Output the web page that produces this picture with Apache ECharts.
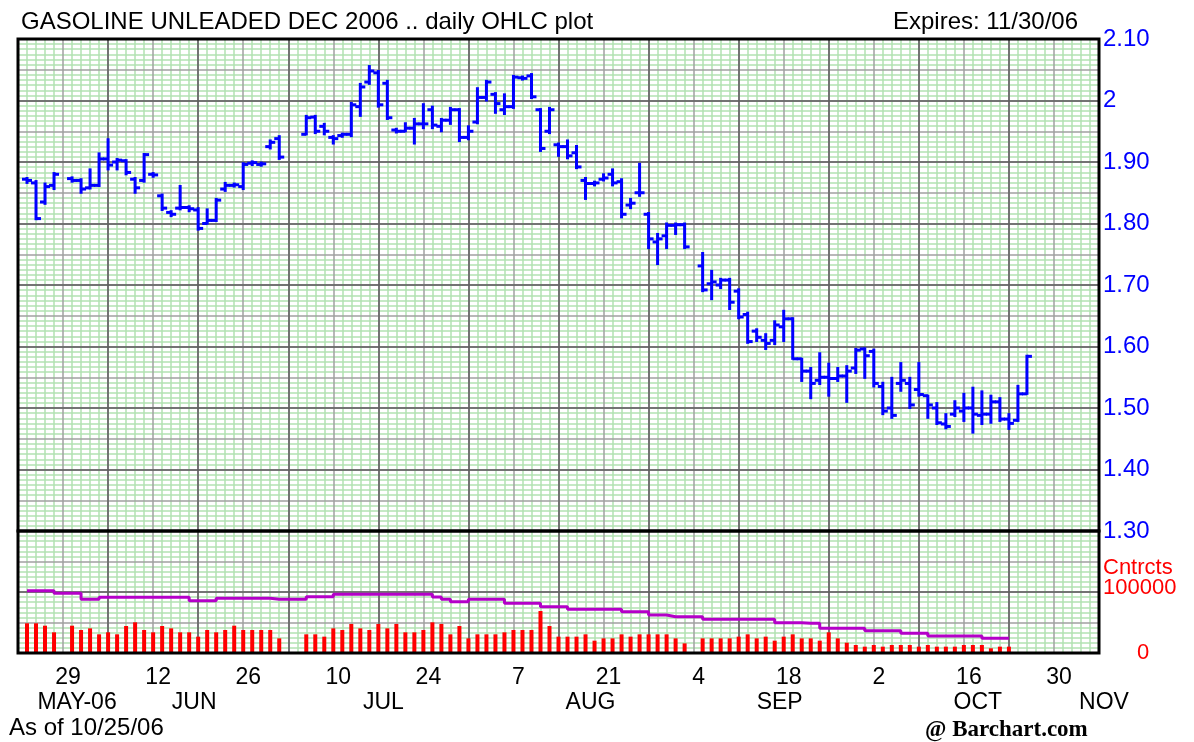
<!DOCTYPE html>
<html>
<head>
<meta charset="utf-8">
<title>Gasoline Unleaded Dec 2006</title>
<script src="https://cdn.jsdelivr.net/npm/echarts@6/dist/echarts.min.js"></script>
<style>
html, body { margin: 0; padding: 0; background: #fff; }
#chart { width: 1194px; height: 742px; }
</style>
</head>
<body>
<div id="chart"></div>
<script>
// trading days (weekdays) from Mon 22 May 2006 to Mon 6 Nov 2006
var days = [];
var d = new Date(Date.UTC(2006, 4, 22));
while (days.length < 121) {
    var wd = d.getUTCDay();
    if (wd !== 0 && wd !== 6) days.push(d.toISOString().slice(0, 10));
    d.setUTCDate(d.getUTCDate() + 1);
}

// tick labels under the volume panel
var dayLabelIdx = [5, 15, 25, 35, 45, 55, 65, 75, 85, 95, 105, 115];
var dayLabels = ['29', '12', '26', '10', '24', '7', '21', '4', '18', '2', '16', '30'];
var monthLabelIdx = [6, 19, 40, 63, 84, 106, 120];
var monthLabels = ['MAY-06', 'JUN', 'JUL', 'AUG', 'SEP', 'OCT', 'NOV'];

// daily OHLC, one entry per weekday (null = holiday / no trade)
var open = [null,
    1.872, 1.866, 1.835, 1.862, null, 1.873, 1.870, 1.858, 1.862, 1.905,
    1.900, 1.902, 1.872, 1.870, 1.880, 1.845, 1.818, 1.825, 1.826, 1.822,
    1.800, 1.805, 1.856, 1.862, 1.860, 1.898, 1.896, 1.925, 1.938, null,
    null, 1.945, 1.973, 1.958, 1.940, 1.943, 1.945, 1.990, 2.030, 2.045,
    2.028, 1.952, 1.950, 1.955, 1.962, 1.985, 1.958, 1.968, 1.985, 1.940,
    1.965, 2.005, 2.010, 1.985, 1.990, 2.037, 2.040, 1.985, 1.950, 1.928,
    1.925, 1.915, 1.870, 1.865, 1.872, 1.880, 1.868, 1.830, 1.850, 1.815,
    1.770, 1.780, 1.797, 1.798, null, 1.731, 1.702, 1.700, 1.708, 1.690,
    1.652, 1.625, 1.610, 1.610, 1.632, 1.645, 1.580, 1.560, 1.545, 1.550,
    1.548, 1.552, 1.565, 1.596, 1.592, 1.535, 1.500, 1.540, 1.540, 1.530,
    1.520, 1.500, 1.474, 1.490, 1.495, 1.500, 1.488, 1.490, 1.510, 1.482,
    1.480, 1.523];
var high = [null,
    1.874, 1.869, 1.865, 1.882, null, 1.875, 1.872, 1.888, 1.914, 1.937,
    1.905, 1.903, 1.874, 1.913, 1.882, 1.847, 1.820, 1.861, 1.828, 1.825,
    1.823, 1.840, 1.866, 1.865, 1.898, 1.901, 1.899, 1.935, 1.942, null,
    null, 1.975, 1.975, 1.962, 1.942, 1.946, 1.996, 2.027, 2.056, 2.048,
    2.032, 1.954, 1.963, 1.970, 1.994, 1.990, 1.970, 1.988, 1.986, 1.958,
    2.020, 2.032, 2.012, 2.010, 2.040, 2.039, 2.043, 1.986, 1.988, 1.930,
    1.935, 1.926, 1.874, 1.868, 1.880, 1.888, 1.872, 1.840, 1.897, 1.817,
    1.783, 1.800, 1.800, 1.800, null, 1.752, 1.723, 1.710, 1.710, 1.693,
    1.655, 1.628, 1.620, 1.641, 1.658, 1.646, 1.580, 1.565, 1.589, 1.572,
    1.565, 1.568, 1.596, 1.597, 1.595, 1.541, 1.549, 1.573, 1.549, 1.573,
    1.520, 1.508, 1.490, 1.511, 1.523, 1.533, 1.527, 1.520, 1.516, 1.490,
    1.536, 1.585];
var low = [null,
    1.866, 1.807, 1.832, 1.856, null, 1.868, 1.850, 1.857, 1.861, 1.888,
    1.888, 1.880, 1.850, 1.868, 1.876, 1.822, 1.812, 1.823, 1.820, 1.790,
    1.800, 1.804, 1.853, 1.860, 1.856, 1.895, 1.894, 1.922, 1.905, null,
    null, 1.945, 1.947, 1.945, 1.930, 1.941, 1.942, 1.975, 2.027, 1.990,
    1.970, 1.948, 1.950, 1.930, 1.955, 1.955, 1.950, 1.962, 1.934, 1.937,
    1.963, 2.000, 1.980, 1.978, 1.988, 2.034, 2.004, 1.918, 1.947, 1.910,
    1.906, 1.890, 1.840, 1.862, 1.870, 1.862, 1.810, 1.825, 1.845, 1.760,
    1.734, 1.760, 1.783, 1.760, null, 1.690, 1.677, 1.695, 1.661, 1.646,
    1.606, 1.609, 1.596, 1.604, 1.609, 1.580, 1.544, 1.516, 1.539, 1.520,
    1.544, 1.510, 1.557, 1.549, 1.535, 1.490, 1.484, 1.528, 1.500, 1.520,
    1.484, 1.474, 1.467, 1.487, 1.479, 1.460, 1.474, 1.476, 1.479, 1.466,
    1.479, 1.523];
var close = [null,
    1.870, 1.808, 1.860, 1.880, null, 1.870, 1.856, 1.862, 1.905, 1.895,
    1.903, 1.883, 1.858, 1.912, 1.879, 1.825, 1.815, 1.826, 1.824, 1.792,
    1.805, 1.838, 1.862, 1.863, 1.896, 1.899, 1.897, 1.932, 1.908, null,
    null, 1.972, 1.950, 1.950, 1.938, 1.945, 1.993, 2.022, 2.048, 1.993,
    1.972, 1.950, 1.955, 1.962, 1.962, 1.960, 1.968, 1.985, 1.940, 1.950,
    2.005, 2.030, 1.995, 1.990, 2.038, 2.036, 2.006, 1.922, 1.985, 1.925,
    1.910, 1.892, 1.865, 1.866, 1.874, 1.866, 1.815, 1.833, 1.850, 1.775,
    1.775, 1.797, 1.798, 1.762, null, 1.692, 1.705, 1.708, 1.672, 1.648,
    1.608, 1.615, 1.605, 1.635, 1.645, 1.580, 1.560, 1.540, 1.550, 1.548,
    1.552, 1.560, 1.594, 1.585, 1.540, 1.495, 1.488, 1.545, 1.505, 1.522,
    1.505, 1.476, 1.470, 1.500, 1.500, 1.490, 1.490, 1.510, 1.482, 1.475,
    1.523, 1.584];

// contracts traded and open interest
var volume = [null,
    48700, 48700, 44800, 33900, null, 44800, 37700, 40400, 30600, 33900,
    30600, 44300, 50300, 37700, 33900, 44300, 40400, 33900, 33900, 26800,
    37700, 33900, 37700, 44800, 37700, 37700, 37700, 37700, 24000, null,
    null, 30600, 30600, 26800, 40400, 37700, 47600, 40400, 37700, 47600,
    40400, 47600, 33900, 33900, 37700, 50300, 47600, 30600, 44300, 24000,
    30600, 30600, 30600, 33900, 37700, 37700, 37700, 68900, 44300, 26800,
    26800, 26800, 30600, 20200, 24000, 24000, 30600, 26800, 30600, 30600,
    30600, 30600, 24000, 15800, null, 24000, 24000, 24000, 24000, 26800,
    30600, 24000, 26800, 20200, 26800, 30600, 24000, 24000, 20200, 33900,
    24000, 16900, 13100, 10400, 13100, 10400, 13100, 13100, 13100, 10400,
    13100, 10400, 10400, 10400, 13100, 13100, 13100, 7700, 10400, 10400];
var openInterest = [null,
    102000, 102000, 102000, 97900, null, 97900, 88000, 88000, 91300, 91300,
    91300, 91300, 91300, 91300, 91300, 91300, 91300, 91300, 85800, 85800,
    85800, 89700, 89700, 89700, 89700, 89700, 89700, 88000, 88000, null,
    null, 92300, 92300, 92300, 96200, 96200, 96200, 96200, 96200, 96200,
    96200, 96200, 96200, 96200, 96200, 92000, 88000, 84100, 84100, 88000,
    88000, 88000, 88000, 81500, 81500, 81500, 81500, 76000, 76000, 76000,
    71600, 71600, 71600, 71600, 71600, 71600, 67800, 67800, 67800, 62300,
    62300, 59500, 59500, 59500, null, 55200, 55200, 55200, 55200, 55200,
    55200, 55200, 55200, 49700, 49700, 49700, 48700, 48700, 40500, 40500,
    40500, 40500, 40500, 36600, 36600, 36600, 36600, 32300, 32300, 32300,
    27900, 27900, 27900, 27900, 27900, 27900, 24100, 24100, 24100, 24100];

var ohlc = [];
for (var i = 0; i < open.length; i++) {
    if (open[i] != null) ohlc.push([i, open[i], high[i], low[i], close[i]]);
}

var FONT = 'Liberation Sans';
var DARK = '#5e5e5e', LIGHT = '#a0a0a0', GREEN = '#b2e2b2';

function hiddenAxis(extra) {
    var a = {
        axisLine: { show: false }, axisTick: { show: false },
        axisLabel: { show: false }, splitLine: { show: false }
    };
    for (var k in extra) a[k] = extra[k];
    return a;
}
function grayLines(color, interval) {
    var s = { show: true, showMinLine: false, showMaxLine: false, lineStyle: { color: color, width: 1.5 } };
    if (interval != null) s.interval = interval;
    return s;
}
function greenLines() {
    return { show: true, lineStyle: { color: GREEN, width: 1.5 } };
}

var chart = echarts.init(document.getElementById('chart'));

var option = {
    animation: false,
    backgroundColor: '#ffffff',
    title: [
        { text: 'GASOLINE UNLEADED DEC 2006 .. daily OHLC plot', left: 21, top: 10, padding: 0,
          textStyle: { fontFamily: FONT, fontSize: 24, fontWeight: 'normal', color: '#000' } },
        { text: 'Expires: 11/30/06', left: 893, top: 10, padding: 0,
          textStyle: { fontFamily: FONT, fontSize: 24, fontWeight: 'normal', color: '#000' } },
        { text: 'As of 10/25/06', left: 9, top: 716, padding: 0,
          textStyle: { fontFamily: FONT, fontSize: 24, fontWeight: 'normal', color: '#000' } },
        { text: '@ Barchart.com', left: 925, top: 719, padding: 0,
          textStyle: { fontFamily: 'Liberation Serif', fontSize: 23, fontWeight: 'bold', color: '#000' } }
    ],
    // frames are drawn on top of the grid lines and marks
    grid: [
        { left: 18, right: 95, top: 39, height: 492, show: true, z: 10,
          backgroundColor: 'transparent', borderColor: '#000', borderWidth: 3 },
        { left: 18, right: 95, top: 531, height: 122, show: true, z: 10,
          backgroundColor: 'transparent', borderColor: '#000', borderWidth: 3 }
    ],
    xAxis: [
        // price panel
        hiddenAxis({ type: 'category', gridIndex: 0, data: days, boundaryGap: false, z: 2,
            splitLine: grayLines(DARK, 9) }),
        hiddenAxis({ type: 'category', gridIndex: 0, data: days, boundaryGap: false, z: 1,
            splitLine: grayLines(LIGHT, 4) }),
        hiddenAxis({ type: 'value', gridIndex: 0, min: 0, max: 120, interval: 5, z: 0,
            minorTick: { show: false, splitNumber: 5 }, minorSplitLine: greenLines() }),
        // volume panel
        hiddenAxis({ type: 'category', gridIndex: 1, data: days, boundaryGap: false, z: 2,
            position: 'bottom',
            splitLine: grayLines(DARK, 9),
            axisLabel: {
                show: true, margin: 13, fontFamily: FONT, fontSize: 23, color: '#000',
                padding: [0, 0, 0, 10], hideOverlap: false,
                interval: function (idx) { return dayLabelIdx.indexOf(idx) >= 0; },
                formatter: function (v, idx) {
                    var k = dayLabelIdx.indexOf(idx);
                    return k >= 0 ? dayLabels[k] : '';
                }
            } }),
        hiddenAxis({ type: 'category', gridIndex: 1, data: days, boundaryGap: false, z: 1,
            position: 'bottom', splitLine: grayLines(LIGHT, 4) }),
        hiddenAxis({ type: 'value', gridIndex: 1, min: 0, max: 120, interval: 5, z: 0,
            position: 'bottom',
            minorTick: { show: false, splitNumber: 5 }, minorSplitLine: greenLines() }),
        hiddenAxis({ type: 'category', gridIndex: 1, data: days, boundaryGap: false, z: 2,
            position: 'bottom',
            axisLabel: {
                show: true, margin: 38, fontFamily: FONT, fontSize: 23, color: '#000',
                padding: [0, 0, 0, 10], hideOverlap: false,
                interval: function (idx) { return monthLabelIdx.indexOf(idx) >= 0; },
                formatter: function (v, idx) {
                    var k = monthLabelIdx.indexOf(idx);
                    return k >= 0 ? monthLabels[k] : '';
                }
            } })
    ],
    yAxis: [
        // price panel
        hiddenAxis({ type: 'value', gridIndex: 0, position: 'right', min: 1.3, max: 2.1, interval: 0.1, z: 2,
            splitLine: grayLines(DARK),
            axisLabel: {
                show: true, margin: 4, fontFamily: FONT, fontSize: 24, color: '#0000ff',
                showMinLabel: true, showMaxLabel: true,
                formatter: function (v) {
                    return Math.abs(v - 2) < 1e-6 ? '2' : v.toFixed(2);
                }
            } }),
        hiddenAxis({ type: 'value', gridIndex: 0, position: 'right', min: 1.3, max: 2.1, interval: 0.05, z: 1,
            splitLine: grayLines(LIGHT) }),
        hiddenAxis({ type: 'value', gridIndex: 0, position: 'right', min: 1.3, max: 2.1, interval: 0.05, z: 0,
            minorTick: { show: false, splitNumber: 6 }, minorSplitLine: greenLines() }),
        // volume panel
        hiddenAxis({ type: 'value', gridIndex: 1, position: 'right', min: 0, max: 200000, interval: 100000, z: 2,
            splitLine: grayLines(DARK),
            axisLabel: {
                show: true, margin: 4, fontFamily: FONT, fontSize: 22, color: '#ff0000',
                showMinLabel: true, showMaxLabel: true,
                formatter: function (v) {
                    if (v === 0) return '{z|0}';
                    if (v === 100000) return '{h|100000}';
                    return '';
                },
                rich: {
                    z: { fontFamily: FONT, fontSize: 22, color: '#ff0000', padding: [0, 0, 0, 34] },
                    h: { fontFamily: FONT, fontSize: 22, color: '#ff0000', padding: [0, 0, 8, 0] }
                }
            } }),
        hiddenAxis({ type: 'value', gridIndex: 1, position: 'right', min: 0, max: 200000, interval: 50000, z: 1,
            splitLine: grayLines(LIGHT),
            axisLabel: {
                show: true, margin: 4, fontFamily: FONT, fontSize: 22, color: '#ff0000',
                showMinLabel: false, showMaxLabel: false,
                formatter: function (v) { return v === 150000 ? '{c|Cntrcts}' : ''; },
                rich: { c: { fontFamily: FONT, fontSize: 22, color: '#ff0000', padding: [12, 0, 0, 0] } }
            } }),
        hiddenAxis({ type: 'value', gridIndex: 1, position: 'right', min: 0, max: 200000, interval: 50000, z: 0,
            minorTick: { show: false, splitNumber: 6 }, minorSplitLine: greenLines() })
    ],
    series: [
        {
            name: 'OHLC',
            type: 'custom',
            xAxisIndex: 0,
            yAxisIndex: 0,
            z: 5,
            data: ohlc,
            encode: { x: 0, y: [1, 2, 3, 4] },
            renderItem: function (params, api) {
                var x = api.value(0);
                var o = api.coord([x, api.value(1)]);
                var h = api.coord([x, api.value(2)]);
                var l = api.coord([x, api.value(3)]);
                var c = api.coord([x, api.value(4)]);
                var st = { stroke: '#0000ff', lineWidth: 3 };
                return {
                    type: 'group',
                    children: [
                        { type: 'line', shape: { x1: h[0], y1: h[1] - 1, x2: l[0], y2: l[1] + 1 }, style: st },
                        { type: 'line', shape: { x1: o[0] - 5, y1: o[1], x2: o[0], y2: o[1] }, style: st },
                        { type: 'line', shape: { x1: c[0], y1: c[1], x2: c[0] + 5, y2: c[1] }, style: st }
                    ]
                };
            }
        },
        {
            name: 'Volume',
            type: 'bar',
            xAxisIndex: 3,
            yAxisIndex: 3,
            z: 5,
            barWidth: 4,
            itemStyle: { color: '#ff0000' },
            data: volume
        },
        {
            name: 'Open interest',
            type: 'line',
            xAxisIndex: 3,
            yAxisIndex: 3,
            z: 6,
            step: 'end',
            symbol: 'none',
            connectNulls: true,
            lineStyle: { color: '#b400c8', width: 3 },
            data: openInterest
        }
    ]
};

chart.setOption(option);
window.onresize = chart.resize;
</script>
</body>
</html>
